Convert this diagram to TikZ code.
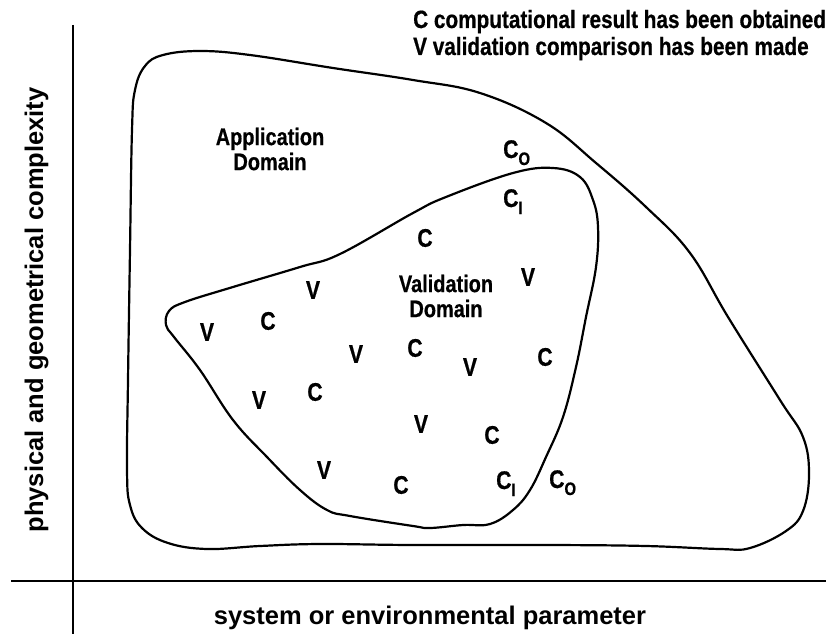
\documentclass[tikz,border=0pt]{standalone}
\usepackage{fontspec}
\setmainfont{Liberation Sans}
\newfontfamily\narrowfont{Liberation Sans}[FakeStretch=0.83, FakeBold=0.6]
\tikzstyle{AxisLine}=[line width=2pt]
\tikzstyle{DomainLine}=[line width=2.2pt, line join=round]
\tikzstyle{AxisLabel}=[font=\bfseries\fontsize{25.5}{28}\selectfont, inner sep=0pt, anchor=base]
\tikzstyle{LegendNode}=[font=\narrowfont\bfseries\fontsize{25}{27}\selectfont, inner sep=0pt, anchor=base west]
\tikzstyle{DomainNode}=[font=\narrowfont\bfseries\fontsize{24}{25}\selectfont, align=center, inner sep=0pt]
\tikzstyle{MarkNode}=[font=\narrowfont\bfseries\fontsize{25.5}{27}\selectfont, inner sep=0pt]
\newcommand{\Csub}[1]{C\raisebox{-7pt}{\fontsize{18}{18}\selectfont #1}}

\begin{document}
\begin{tikzpicture}[x=1pt,y=-1pt]
    \useasboundingbox (0,0) rectangle (826,634);

    % axes
    \coordinate (yTop) at (73,25);
    \coordinate (yBot) at (73,634);
    \coordinate (xLeft) at (11,581);
    \coordinate (xRight) at (826,581);
    \draw [AxisLine] (yTop) -- (yBot);
    \draw [AxisLine] (xLeft) -- (xRight);
    \node (xlabel) [AxisLabel] at (430,624) {system or environmental parameter};
    \node (ylabel) [AxisLabel, rotate=90] at (43,310) {physical and geometrical complexity};

    % application domain
    \draw [DomainLine] plot [smooth cycle, tension=0.65] coordinates {
      (200,51) (250,55) (333,68) (413,80) (480,93) (546,123) (596,163)
      (646,207) (690,253) (728,317) (780,400) (803,437) (809,474)
      (803,511) (786,531) (750,548) (720,549) (646,546) (550,545)
      (413,545) (320,544) (260,546) (207,549) (168,543) (142,528)
      (130,505) (127,470) (128,380) (130,250) (132,130) (135,90)
      (145,66) (163,55)};

    % validation domain
    \draw [DomainLine] plot [smooth cycle, tension=0.65] coordinates {
      (185,302) (233,287) (300,267) (340,254) (413,213) (446,197)
      (513,173) (553,168) (580,177) (593,200) (598,227) (596,267)
      (586,317) (576,367) (563,417) (546,457) (530,490) (513,510)
      (490,524) (463,525) (430,528) (413,526) (350,516) (327,510)
      (300,490) (267,457) (233,420) (200,370) (174,337) (166,325)
      (169,311)};

    % legend
    \node (legC) [LegendNode] at (413,28) {C computational result has been obtained};
    \node (legV) [LegendNode] at (413,55) {V validation comparison has been made};

    % domain names
    \node (appl) [DomainNode] at (270,149) {Application\\Domain};
    \node (vali) [DomainNode] at (446,296) {Validation\\Domain};

    % boundary points
    \node (coTop) [MarkNode, anchor=base west] at (503,158) {\Csub{O}};
    \node (ciTop) [MarkNode, anchor=base west] at (503,207) {\Csub{I}};
    \node (ciBot) [MarkNode, anchor=base west] at (496,489) {\Csub{I}};
    \node (coBot) [MarkNode, anchor=base west] at (549,488) {\Csub{O}};

    % computations
    \node (c1) [MarkNode] at (425,238) {C};
    \node (c2) [MarkNode] at (268,321) {C};
    \node (c3) [MarkNode] at (415,348) {C};
    \node (c4) [MarkNode] at (545,357) {C};
    \node (c5) [MarkNode] at (315,392) {C};
    \node (c6) [MarkNode] at (492,435) {C};
    \node (c7) [MarkNode] at (401,485) {C};

    % validations
    \node (v1) [MarkNode] at (528,277) {V};
    \node (v2) [MarkNode] at (313,290) {V};
    \node (v3) [MarkNode] at (207,332) {V};
    \node (v4) [MarkNode] at (356,354) {V};
    \node (v5) [MarkNode] at (470,367) {V};
    \node (v6) [MarkNode] at (259,400) {V};
    \node (v7) [MarkNode] at (421,424) {V};
    \node (v8) [MarkNode] at (324,470) {V};
\end{tikzpicture}
\end{document}
